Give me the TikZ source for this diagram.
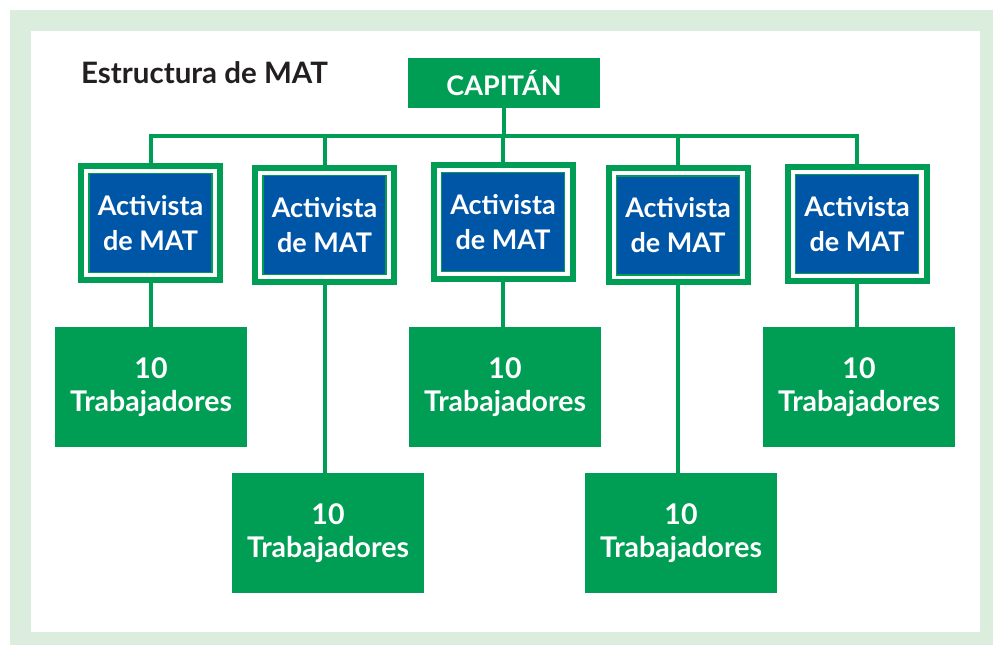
\documentclass[tikz,border=0pt]{standalone}
\usepackage{fontspec}
\setmainfont{Lato}
\definecolor{matgreen}{RGB}{0,158,84}
\definecolor{matblue}{RGB}{0,86,166}
\definecolor{palegreen}{RGB}{219,237,221}
\definecolor{titlegray}{RGB}{35,31,32}

\begin{document}
\begin{tikzpicture}[x=1pt, y=1pt,
capnode/.style={fill=matgreen, text=white, minimum width=192pt, minimum height=50pt, inner sep=0pt, font=\bfseries\fontsize{27}{35}\selectfont},
framenode/.style={draw=matgreen, fill=white, line width=6pt, minimum width=139pt, minimum height=114pt, inner sep=0pt},
actnode/.style={draw=matgreen, fill=matblue, line width=1.2pt, text=white, minimum width=123pt, minimum height=99pt, inner sep=0pt, align=center, font=\bfseries\fontsize{27}{35}\selectfont},
worknode/.style={fill=matgreen, text=white, minimum width=192pt, minimum height=120pt, inner sep=0pt, align=center, font=\bfseries\fontsize{28.5}{33}\selectfont},
link/.style={draw=matgreen, line width=4pt}
]
    \useasboundingbox (0,0) rectangle (993,645);
    \fill[palegreen] (10,0) rectangle (993,635);
    \fill[white] (31,13) rectangle (980,614);

    \node[anchor=base west, inner sep=0pt, text=titlegray, font=\bfseries\fontsize{29.5}{32}\selectfont] (title) at (81,561) {Estructura de MAT};

    \node [capnode] (cap) at (504,562) {CAPITÁN};

    \node [framenode] (f1) at (150.5,422) {};
    \node [framenode] (f2) at (324.5,420) {};
    \node [framenode] (f3) at (503,423) {};
    \node [framenode] (f4) at (678,419.5) {};
    \node [framenode] (f5) at (857,421) {};

    \node [actnode] (a1) at (f1) {Activista\\de MAT};
    \node [actnode] (a2) at (f2) {Activista\\de MAT};
    \node [actnode] (a3) at (f3) {Activista\\de MAT};
    \node [actnode] (a4) at (f4) {Activista\\de MAT};
    \node [actnode] (a5) at (f5) {Activista\\de MAT};

    \node [worknode] (w1) at (151,258) {10\\Trabajadores};
    \node [worknode] (w2) at (328,111.5) {10\\Trabajadores};
    \node [worknode] (w3) at (505,258) {10\\Trabajadores};
    \node [worknode] (w4) at (681,111.5) {10\\Trabajadores};
    \node [worknode] (w5) at (859,258) {10\\Trabajadores};

    \coordinate (bar) at (504,509);
    \draw[link] (cap.south) -- (bar);
    \draw[link] (f1.north) |- (bar);
    \draw[link] (f2.north) |- (bar);
    \draw[link] (f3.north) |- (bar);
    \draw[link] (f4.north) |- (bar);
    \draw[link] (f5.north) |- (bar);

    \draw[link] (f1.south) -- (f1.south |- w1.north);
    \draw[link] (f2.south) -- (f2.south |- w2.north);
    \draw[link] (f3.south) -- (f3.south |- w3.north);
    \draw[link] (f4.south) -- (f4.south |- w4.north);
    \draw[link] (f5.south) -- (f5.south |- w5.north);
\end{tikzpicture}
\end{document}
